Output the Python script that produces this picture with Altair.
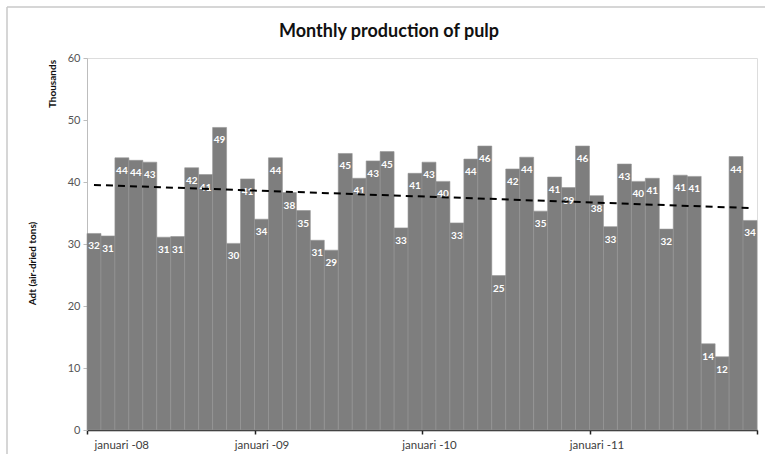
import altair as alt
import pandas as pd

# Monthly pulp production, thousands of air-dried tons, Jan 2008 - Dec 2011
values = [31.7, 31.3, 43.9, 43.5, 43.2, 31.1, 31.2, 42.3, 41.2, 48.8, 30.1, 40.5,
          34.0, 43.9, 38.3, 35.4, 30.6, 29.0, 44.6, 40.6, 43.4, 44.9, 32.6, 41.4,
          43.2, 40.1, 33.4, 43.7, 45.8, 24.9, 42.1, 44.0, 35.3, 40.8, 39.1, 45.8,
          37.8, 32.8, 42.9, 40.1, 40.6, 32.4, 41.1, 40.9, 13.9, 11.8, 44.1, 33.8]
year_ticks = [0, 12, 24, 36, 48]
tick_labels = ["januari -08", "januari -09", "januari -10", "januari -11", ""]
y_ticks = [0, 10, 20, 30, 40, 50, 60]
title_text = "Monthly production of pulp"

df = pd.DataFrame({
    "m": list(range(len(values))),
    "value": values,
})

FONT = "Lato"

base = alt.Chart(df).transform_calculate(
    m2="datum.m + 1", mc="datum.m + 0.5", lab="format(datum.value, '.0f')"
)

xscale = alt.Scale(domain=[0, 48], nice=False, zero=False)
yscale = alt.Scale(domain=[0, 60], nice=False)

label_js = "[" + ",".join("'%s'" % t for t in tick_labels) + "]"

bars = base.mark_rect(color="#7e7e7e", stroke="#959595", strokeWidth=0.6).encode(
    x=alt.X("m:Q", scale=xscale,
            axis=alt.Axis(values=year_ticks, title=None, grid=False,
                          labelExpr=label_js + "[datum.value/12]",
                          labelOffset=7, labelFont=FONT, labelFontSize=11.5,
                          labelColor="#404040", labelPadding=5,
                          domainColor="#222222", domainWidth=1.6,
                          tickColor="#222222", tickWidth=1.5, tickSize=4)),
    x2="m2:Q",
    y=alt.Y("value:Q", scale=yscale,
            axis=alt.Axis(values=y_ticks, title="Adt (air-dried tons)", grid=False,
                          labelFont=FONT, labelFontSize=11, labelColor="#555555",
                          labelPadding=3, domainColor="#bdbdbd", tickColor="#bdbdbd",
                          tickSize=4, titleFont=FONT, titleFontSize=10,
                          titleFontWeight="bold", titleColor="#111111",
                          titleAngle=270, titleX=-55, titleY=205,
                          titleAlign="center", titleBaseline="middle")),
    y2=alt.datum(0),
)

labels = base.mark_text(color="white", font=FONT, fontSize=10, fontWeight="bold",
                        baseline="middle", dy=13).encode(
    x=alt.X("mc:Q", scale=xscale),
    y=alt.Y("value:Q", scale=yscale),
    text="lab:N",
)

trend = base.transform_regression("mc", "value", extent=[0.5, 47.5]).mark_line(
    color="black", strokeWidth=2, strokeDash=[7, 5]
).encode(
    x=alt.X("mc:Q", scale=xscale),
    y=alt.Y("value:Q", scale=yscale),
)

one = pd.DataFrame({"t": ["Thousands"]})
thousands = alt.Chart(one).mark_text(
    font=FONT, fontSize=10, fontWeight="bold", color="#111111", angle=270,
    align="center", baseline="middle"
).encode(x=alt.value(-34), y=alt.value(26), text="t:N")

title_df = pd.DataFrame({"t": [title_text]})
title = alt.Chart(title_df).mark_text(
    font=FONT, fontSize=18, fontWeight="bold", color="#111111",
    align="center", baseline="middle"
).encode(x=alt.value(302), y=alt.value(-26), text="t:N")

frame_top = alt.Chart(one).mark_rule(color="#c8c8c8", strokeWidth=1.5).encode(
    x=alt.value(-80), x2=alt.value(690), y=alt.value(-51))
frame_left = alt.Chart(one).mark_rule(color="#c8c8c8", strokeWidth=1.5).encode(
    x=alt.value(-80), y=alt.value(-51), y2=alt.value(400))

chart = alt.layer(frame_top, frame_left, bars, labels, trend, thousands, title).properties(
    width=670, height=372,
    autosize=alt.AutoSizeParams(type="none"),
    padding={"left": 87, "top": 58, "right": 8, "bottom": 24},
).configure_view(stroke=None).configure(background="white")

chart.save("out.html", embed_options={"renderer": "svg", "actions": False})
